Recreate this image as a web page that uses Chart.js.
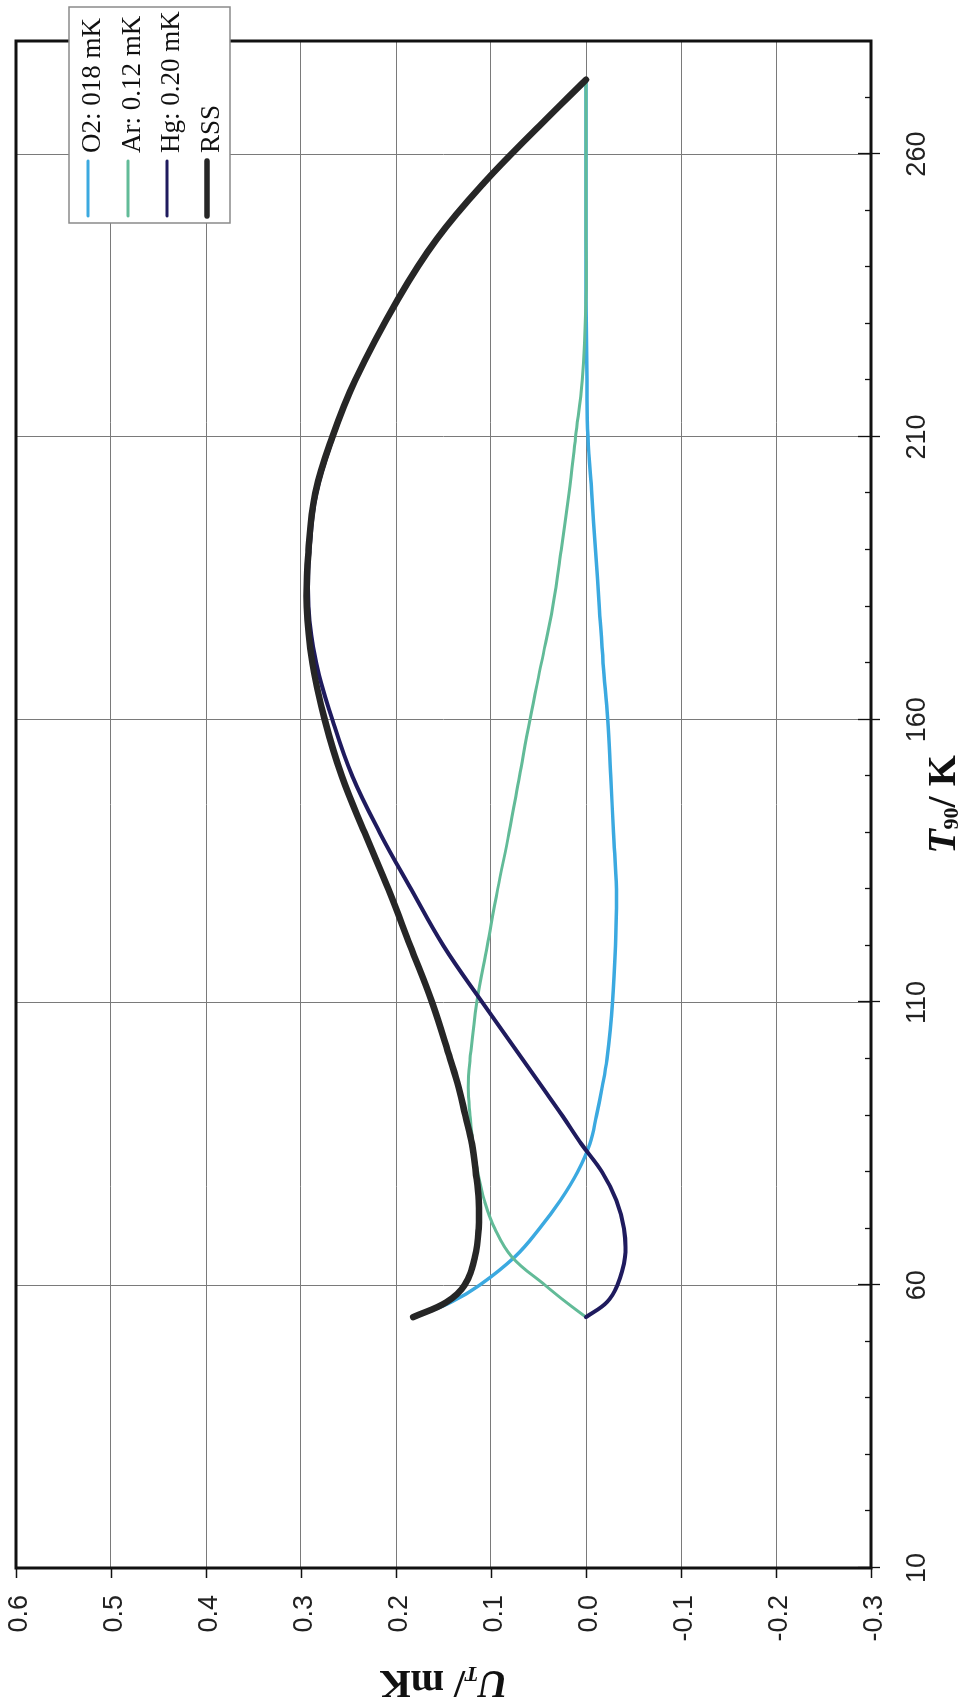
<!DOCTYPE html>
<html>
<head>
<meta charset="utf-8">
<script src="https://cdn.jsdelivr.net/npm/chart.js@4.4.1/dist/chart.umd.min.js"></script>
<style>
  html, body { margin: 0; padding: 0; background: #fff; overflow: hidden; }
  /* chart is laid out landscape, then turned a quarter turn to the left */
  #wrap {
    position: absolute; left: 0; top: 0;
    width: 1707px; height: 966px;
    transform-origin: 0 0;
    transform: translate(0, 1707px) rotate(-90deg);
  }
</style>
</head>
<body>
<div id="wrap"><canvas id="chart"></canvas></div>
<script>
// T90 / K
const temperatures = [54.36, 57, 60, 65, 70, 75, 80, 85, 90, 95, 100, 110, 120, 130, 140,
                      150, 160, 170, 180, 190, 200, 210, 220, 234.32, 245, 255, 265, 273.16];
// U_T / mK
const o2Values  = [0.180, 0.142, 0.112, 0.075, 0.049, 0.027, 0.009, -0.004, -0.011, -0.017, -0.022, -0.028, -0.031, -0.032,
                   -0.029, -0.026, -0.023, -0.018, -0.014, -0.010, -0.006, -0.002, -0.001, 0, 0, 0, 0, 0];
const arValues  = [0, 0.021, 0.043, 0.078, 0.096, 0.107, 0.114, 0.119, 0.122, 0.124, 0.122, 0.115, 0.104, 0.093,
                   0.081, 0.070, 0.059, 0.047, 0.035, 0.026, 0.018, 0.011, 0.004, 0, 0, 0, 0, 0];
const hgValues  = [0, -0.022, -0.033, -0.041, -0.040, -0.032, -0.017, 0.005, 0.025, 0.046, 0.067, 0.109, 0.150, 0.184,
                   0.217, 0.246, 0.267, 0.284, 0.292, 0.291, 0.284, 0.266, 0.243, 0.198, 0.157, 0.107, 0.049, 0];
const rssValues = [0.182, 0.147, 0.128, 0.117, 0.113, 0.113, 0.116, 0.120, 0.127, 0.134, 0.143, 0.162, 0.185, 0.208,
                   0.233, 0.257, 0.275, 0.288, 0.294, 0.292, 0.285, 0.267, 0.243, 0.198, 0.157, 0.107, 0.049, 0];

const seriesLabels = ['O2: 018 mK', 'Ar: 0.12 mK', 'Hg: 0.20 mK', 'RSS'];
const xTickValues = [10, 60, 110, 160, 210, 260];
const yTickValues = [-0.3, -0.2, -0.1, 0.0, 0.1, 0.2, 0.3, 0.4, 0.5, 0.6];

const colors = ['#3ba9e0', '#62bb98', '#1f1b5e', '#262626'];
const widths = [3.5, 3, 4, 6.5];
const legendWidths = [3, 3, 3, 5.5];

const allSeries = [o2Values, arValues, hgValues, rssValues];

const SERIF = '"Liberation Serif", "Times New Roman", serif';

function drawPieces(ctx, pieces, x, y) {
  let total = 0;
  pieces.forEach(p => { ctx.font = p.font; p.w = ctx.measureText(p.text).width; total += p.w; });
  let cx = x - total / 2;
  pieces.forEach(p => {
    ctx.font = p.font;
    ctx.fillText(p.text, cx, y + (p.dy || 0));
    cx += p.w;
  });
}

const decorations = {
  id: 'decorations',
  afterDraw(chart) {
    const ctx = chart.ctx;
    const a = chart.chartArea;
    const xs = chart.scales.x;
    const ys = chart.scales.y;
    ctx.save();

    // frame
    ctx.strokeStyle = '#111';
    ctx.lineWidth = 3;
    ctx.strokeRect(a.left, a.top, a.right - a.left, a.bottom - a.top);

    // major + minor ticks on the T axis
    ctx.lineWidth = 1.3;
    ctx.beginPath();
    for (let t = 10; t <= 270; t += 10) {
      const px = Math.round(xs.getPixelForValue(t)) + 0.5;
      if (xTickValues.includes(t)) {
        ctx.moveTo(px, a.bottom - 13);
        ctx.lineTo(px, a.bottom + 9);
      } else {
        ctx.moveTo(px, a.bottom - 6);
        ctx.lineTo(px, a.bottom);
      }
    }
    yTickValues.forEach(v => {
      const py = Math.round(ys.getPixelForValue(v)) + 0.5;
      ctx.moveTo(a.left - 10, py);
      ctx.lineTo(a.left, py);
    });
    ctx.stroke();

    // axis titles
    ctx.fillStyle = '#111';
    ctx.textBaseline = 'alphabetic';
    drawPieces(ctx, [
      { text: 'T', font: 'italic bold 40px ' + SERIF },
      { text: '90', font: 'bold 22px ' + SERIF, dy: 3 },
      { text: '/ K', font: 'bold 40px ' + SERIF }
    ], (a.left + a.right) / 2, 955);

    ctx.save();
    ctx.translate(36, (a.top + a.bottom) / 2);
    ctx.rotate(-Math.PI / 2);
    drawPieces(ctx, [
      { text: 'U', font: 'italic bold 40px ' + SERIF },
      { text: 'T', font: 'italic bold 22px ' + SERIF, dy: 4 },
      { text: '/ mK', font: 'bold 40px ' + SERIF }
    ], 0, 0);
    ctx.restore();

    // legend box
    const bx = 1484, by = 69, bw = 216, bh = 161;
    ctx.fillStyle = '#fff';
    ctx.fillRect(bx, by, bw, bh);
    ctx.strokeStyle = '#8a8a8a';
    ctx.lineWidth = 1.5;
    ctx.strokeRect(bx, by, bw, bh);
    const rows = [88, 128, 167, 207];
    ctx.lineCap = 'round';
    seriesLabels.forEach((label, i) => {
      ctx.strokeStyle = colors[i];
      ctx.lineWidth = legendWidths[i];
      ctx.beginPath();
      ctx.moveTo(1491, rows[i]);
      ctx.lineTo(1546, rows[i]);
      ctx.stroke();
      ctx.fillStyle = '#111';
      ctx.font = '27px ' + SERIF;
      ctx.textAlign = 'left';
      ctx.fillText(label, 1554, rows[i] + 12);
    });
    ctx.restore();
  }
};

new Chart(document.getElementById('chart'), {
  type: 'line',
  data: {
    datasets: allSeries.map((vals, i) => ({
      label: seriesLabels[i],
      data: temperatures.map((t, k) => ({ x: t, y: vals[k] })),
      borderColor: colors[i],
      borderWidth: widths[i],
      borderCapStyle: 'round',
      borderJoinStyle: 'round',
      pointRadius: 0,
      fill: false,
      tension: 0.4,
      order: 3 - i
    }))
  },
  options: {
    responsive: true,
    maintainAspectRatio: false,
    animation: false,
    layout: { padding: { left: 0, top: 16, right: 41, bottom: 0 } },
    plugins: { legend: { display: false }, tooltip: { enabled: false } },
    scales: {
      x: {
        type: 'linear',
        min: 10,
        max: 280,
        afterBuildTicks: s => { s.ticks = xTickValues.map(v => ({ value: v })); },
        afterFit: s => { s.height = 95; s.paddingLeft = 0; s.paddingRight = 0; },
        border: { display: false },
        grid: { color: '#7a7a7a', lineWidth: 1, drawTicks: false },
        ticks: {
          autoSkip: false,
          maxRotation: 0,
          padding: 30,
          color: '#222',
          font: { family: '"Liberation Sans", Arial, sans-serif', size: 27 },
          callback: v => String(v)
        }
      },
      y: {
        type: 'linear',
        min: -0.3,
        max: 0.6,
        afterBuildTicks: s => { s.ticks = yTickValues.map(v => ({ value: v })); },
        afterFit: s => { s.width = 139; s.paddingTop = 0; s.paddingBottom = 0; },
        border: { display: false },
        grid: { color: '#7a7a7a', lineWidth: 1, drawTicks: false },
        ticks: {
          autoSkip: false,
          padding: 27,
          labelOffset: 4,
          color: '#222',
          font: { family: '"Liberation Sans", Arial, sans-serif', size: 27 },
          callback: v => Number(v).toFixed(1)
        }
      }
    }
  },
  plugins: [decorations]
});
</script>
</body>
</html>
